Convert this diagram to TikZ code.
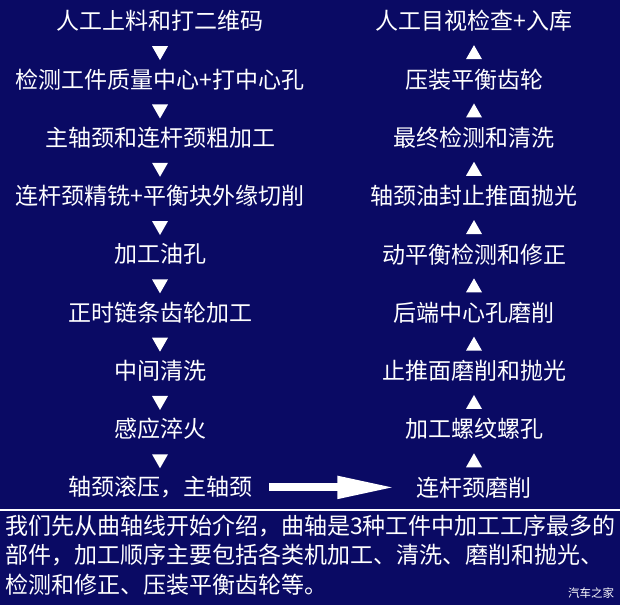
\documentclass[tikz,border=0pt]{standalone}
\usepackage{fontspec}
\setmainfont{Noto Sans CJK SC}
\usetikzlibrary{arrows.meta,calc}
\definecolor{bg}{RGB}{10,10,100}
\begin{document}
\begin{tikzpicture}[x=1pt,y=-1pt,
  stepbox/.style={text=white,font=\fontsize{23}{26}\selectfont,inner sep=0pt},
  notebox/.style={text=white,font=\fontsize{23}{29.2}\selectfont,inner sep=0pt,align=left},
  wmbox/.style={text=white,font=\fontsize{11.5}{12}\selectfont,inner sep=0pt},
  tri/.style={fill=white},
  bigarrow/.style={draw=white,line width=8pt,-{Triangle[length=58pt,width=21pt]}},
  sepline/.style={draw=white,line width=1.8pt}
]
\fill[bg] (0,0) rectangle (620,605);
\useasboundingbox (0,0) rectangle (620,605);

% left column
\foreach \i/\t in {1/人工上料和打二维码,2/检测工件质量中心+打中心孔,3/主轴颈和连杆颈粗加工,4/连杆颈精铣+平衡块外缘切削,5/加工油孔,6/正时链条齿轮加工,7/中间清洗,8/感应淬火,9/轴颈滚压，主轴颈}
  \node[stepbox] (L\i) at (160,{21+58.3*(\i-1)}) {\t};
% right column
\foreach \i/\t in {1/人工目视检查+入库,2/压装平衡齿轮,3/最终检测和清洗,4/轴颈油封止推面抛光,5/动平衡检测和修正,6/后端中心孔磨削,7/止推面磨削和抛光,8/加工螺纹螺孔,9/连杆颈磨削}
  \node[stepbox] (R\i) at (474,{21+58.3*(\i-1)}) {\t};

% down triangles (left)
\foreach \i [evaluate=\i as \j using int(\i+1)] in {1,...,8}
  \fill[tri] ($(L\i)!0.5!(L\j)$) ++(-8,-4) -- ++(16,0) -- ++(-8,14) -- cycle;
% up triangles (right)
\foreach \i [evaluate=\i as \j using int(\i+1)] in {1,...,8}
  \fill[tri] ($(R\i)!0.5!(R\j)$) ++(-8,9) -- ++(16,0) -- ++(-8,-14) -- cycle;

% big arrow
\draw[bigarrow] ([xshift=17pt]L9.east) -- ([xshift=-21pt]R9.west);

% separator
\draw[sepline] (0,510) -- (620,510);

% note
\node[notebox,anchor=north west] (note) at (5,515) {我们先从曲轴线开始介绍，曲轴是3种工件中加工工序最多的\\部件，加工顺序主要包括各类机加工、清洗、磨削和抛光、\\检测和修正、压装平衡齿轮等。};
\node[wmbox] (wm) at (591,593) {汽车之家};
\end{tikzpicture}
\end{document}
